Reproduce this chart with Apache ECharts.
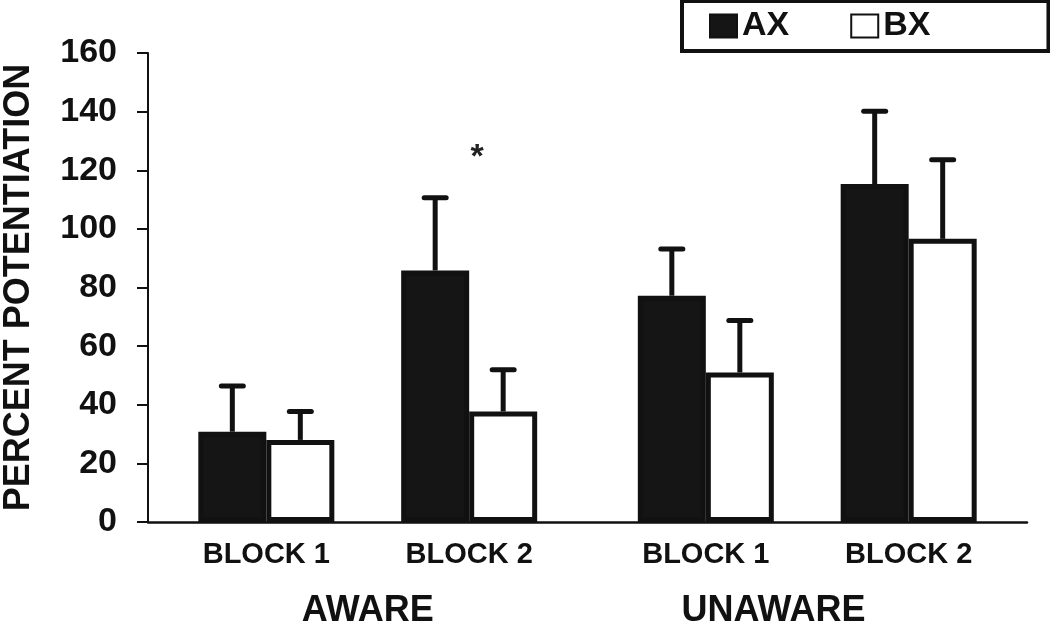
<!DOCTYPE html>
<html>
<head>
<meta charset="utf-8">
<script src="https://cdn.jsdelivr.net/npm/echarts@6/dist/echarts.min.js"></script>
<style>
html,body{margin:0;padding:0;background:#fff;}
#chart{width:1050px;height:626px;}
</style>
</head>
<body>
<div id="chart"></div>
<script>
// ---- data ----
const categories = ['BLOCK 1', 'BLOCK 2', 'BLOCK 1', 'BLOCK 2'];
const conditions = ['AWARE', 'UNAWARE'];
const seriesNames = ['AX', 'BX'];
const axValues = [30.8, 85.8, 77.2, 115.3];
const axErrors = [15.6, 24.8, 15.9, 24.8];
const bxValues = [28.0, 37.7, 51.0, 96.6];
const bxErrors = [9.7, 14.2, 17.7, 27.0];
const significance = ['', '*', '', ''];
const yMin = 0, yMax = 160, yStep = 20;
const yAxisTitle = 'PERCENT POTENTIATION';

// ---- layout (slot positions along the x axis) ----
const SLOT_COUNT = 26;
const groupSlots = [3, 9, 16, 22];
const conditionSlots = [6, 18];
const BAR_W = 68;

const FONT = '"Liberation Sans", Arial, Helvetica, sans-serif';
const INK = '#111';

const slotLabels = new Array(SLOT_COUNT).fill('');
groupSlots.forEach((s, i) => { slotLabels[s] = categories[i]; });
const condLabels = new Array(SLOT_COUNT).fill('');
conditionSlots.forEach((s, i) => { condLabels[s] = conditions[i]; });

function slotData(values) {
  const arr = new Array(SLOT_COUNT).fill('-');
  groupSlots.forEach((s, i) => { arr[s] = values[i]; });
  return arr;
}
function errData(values, errs) {
  return groupSlots.map((s, i) => [s, values[i], values[i] + errs[i]]);
}
function errRender(offset) {
  return function (params, api) {
    const idx = api.value(0);
    const base = api.coord([idx, api.value(1)]);
    const top = api.coord([idx, api.value(2)]);
    const x = base[0] + offset;
    return {
      type: 'group',
      children: [
        { type: 'line', shape: { x1: x, y1: base[1], x2: x, y2: top[1] },
          style: { stroke: INK, lineWidth: 5 } },
        { type: 'line', shape: { x1: x - 11, y1: top[1], x2: x + 11, y2: top[1] },
          style: { stroke: INK, lineWidth: 5, lineCap: 'round' } }
      ]
    };
  };
}
const sigData = groupSlots.map((s, i) => [s, Math.max(axValues[i] + axErrors[i], bxValues[i] + bxErrors[i]), significance[i]])
  .filter(d => d[2] !== '');

const chart = echarts.init(document.getElementById('chart'), null, { renderer: 'canvas' });
chart.setOption({
  animation: false,
  backgroundColor: '#fff',
  textStyle: { fontFamily: FONT },
  grid: { left: 148, right: 23, top: 53, bottom: 104, containLabel: false, outerBoundsMode: 'none' },
  legend: {
    left: 682, top: 1,
    orient: 'horizontal',
    data: seriesNames,
    icon: 'rect',
    itemWidth: 27, itemHeight: 23, itemGap: 61,
    padding: [8, 118, 8, 27],
    borderColor: INK, borderWidth: 4, backgroundColor: '#fff',
    textStyle: { fontFamily: FONT, fontWeight: 'bold', fontSize: 34, color: INK },
    selectedMode: false
  },
  xAxis: [
    {
      type: 'category', data: slotLabels, boundaryGap: true,
      axisLine: { lineStyle: { color: INK, width: 2.5 } },
      axisTick: { show: false },
      axisLabel: { interval: 0, margin: 18, fontFamily: FONT, fontWeight: 'bold', fontSize: 29, color: INK },
      splitLine: { show: false }
    },
    {
      type: 'category', data: condLabels, boundaryGap: true, position: 'bottom',
      axisLine: { show: false }, axisTick: { show: false },
      axisLabel: { interval: 0, margin: 71, fontFamily: FONT, fontWeight: 'bold', fontSize: 36, color: INK },
      splitLine: { show: false }
    }
  ],
  yAxis: {
    type: 'value', min: yMin, max: yMax, interval: yStep,
    name: yAxisTitle, nameLocation: 'middle', nameGap: 111,
    nameTextStyle: { fontFamily: FONT, fontWeight: 'bold', fontSize: 36, color: INK },
    axisLine: { show: true, lineStyle: { color: INK, width: 2 } },
    axisTick: { show: true, inside: false, length: 11, lineStyle: { color: INK, width: 2 } },
    axisLabel: { margin: 31, fontFamily: FONT, fontWeight: 'bold', fontSize: 34, color: INK },
    splitLine: { show: false }
  },
  series: [
    {
      name: seriesNames[0], type: 'bar', xAxisIndex: 0, data: slotData(axValues),
      barWidth: BAR_W, barGap: '0%', z: 2,
      itemStyle: { color: '#151515', borderColor: INK, borderWidth: 5 }
    },
    {
      name: seriesNames[1], type: 'bar', xAxisIndex: 0, data: slotData(bxValues),
      barWidth: BAR_W, barGap: '0%', z: 2,
      itemStyle: { color: '#fff', borderColor: INK, borderWidth: 5 }
    },
    {
      type: 'custom', xAxisIndex: 0, z: 3, data: errData(axValues, axErrors),
      renderItem: errRender(-BAR_W / 2)
    },
    {
      type: 'custom', xAxisIndex: 0, z: 3, data: errData(bxValues, bxErrors),
      renderItem: errRender(BAR_W / 2)
    },
    {
      type: 'custom', xAxisIndex: 0, z: 4, data: sigData,
      renderItem: function (params, api) {
        const p = api.coord([api.value(0), api.value(1)]);
        return {
          type: 'text',
          style: { text: sigData[params.dataIndex][2], x: p[0] + 8, y: p[1] - 40,
                   align: 'center', verticalAlign: 'middle',
                   font: 'bold 34px ' + FONT, fill: '#222' }
        };
      }
    }
  ]
});
</script>
</body>
</html>
